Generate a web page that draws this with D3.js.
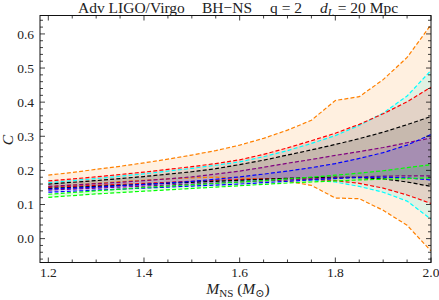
<!DOCTYPE html>
<html>
<head>
<meta charset="utf-8">
<script src="https://cdn.jsdelivr.net/npm/d3@7"></script>
<style>
  body { margin: 0; background: #fff; }
  text { font-family: "Liberation Serif", "DejaVu Serif", serif; fill: #222; }
</style>
</head>
<body>
<svg id="chart" width="439" height="300"></svg>
<script>
// masses on the x axis
var masses = [1.2, 1.25, 1.3, 1.35, 1.4, 1.45, 1.5, 1.55, 1.6, 1.65, 1.7, 1.75, 1.8, 1.85, 1.9, 1.95, 2.0];

// upper and lower edges of each band
var orangeUp = [.186,.194,.203,.212,.222,.233,.245,.258,.274,.294,.318,.347,.405,.416,.466,.531,.627];
var orangeLo = [.152,.157,.162,.167,.171,.175,.178,.180,.178,.174,.168,.156,.119,.117,.083,.039,-.036];
var cyanUp   = [.164,.170,.176,.183,.190,.198,.206,.215,.225,.240,.258,.279,.302,.332,.368,.418,.493];
var cyanLo   = [.148,.151,.154,.157,.160,.163,.166,.169,.171,.173,.174,.172,.166,.153,.136,.110,.057];
var redUp    = [.169,.175,.181,.188,.195,.203,.211,.220,.231,.247,.266,.287,.309,.335,.366,.401,.444];
var redLo    = [.150,.153,.156,.159,.162,.165,.168,.171,.173,.175,.176,.174,.170,.162,.148,.128,.103];
var blackUp  = [.160,.165,.170,.176,.182,.189,.196,.205,.217,.230,.245,.260,.276,.293,.312,.334,.358];
var blackLo  = [.147,.150,.153,.156,.159,.162,.165,.168,.171,.174,.177,.179,.180,.179,.175,.166,.153];
var purpleUp = [.153,.157,.161,.165,.170,.175,.181,.189,.198,.209,.221,.232,.244,.255,.267,.281,.295];
var purpleLo = [.142,.145,.148,.151,.154,.157,.160,.163,.166,.169,.172,.175,.178,.181,.183,.184,.184];
var blueUp   = [.145,.148,.151,.155,.159,.163,.168,.174,.181,.189,.198,.208,.220,.235,.252,.274,.305];
var blueLo   = [.136,.139,.142,.145,.148,.151,.154,.157,.160,.164,.168,.172,.176,.179,.180,.178,.172];
var greenUp  = [.130,.135,.140,.145,.150,.154,.158,.162,.166,.170,.175,.180,.186,.192,.199,.208,.217];
var greenLo  = [.121,.126,.131,.135,.139,.143,.147,.151,.155,.159,.163,.166,.169,.172,.174,.176,.178];

var bandNames = ['orange', 'cyan', 'red', 'black', 'purple', 'blue', 'green'];
var bandColors = ['#ff8000', '#00ffff', '#ff0000', '#000000', '#800080', '#0000ff', '#00ff00'];
var bandUp = [orangeUp, cyanUp, redUp, blackUp, purpleUp, blueUp, greenUp];
var bandLo = [orangeLo, cyanLo, redLo, blackLo, purpleLo, blueLo, greenLo];

var xTicks = [1.2, 1.4, 1.6, 1.8, 2.0];
var yTicks = [0.0, 0.1, 0.2, 0.3, 0.4, 0.5, 0.6];

var svg = d3.select('#chart');
var padding = {t: 15.5, r: 8, b: 37.5, l: 40};
var svgWidth = +svg.attr('width');
var svgHeight = +svg.attr('height');

var xScale = d3.scaleLinear()
    .domain([1.1826, 2.0])
    .range([padding.l, svgWidth - padding.r]);

var yScale = d3.scaleLinear()
    .domain([-0.07, 0.654])
    .range([svgHeight - padding.b, padding.t]);

svg.append('clipPath').attr('id', 'plotClip')
    .append('rect')
    .attr('x', padding.l).attr('y', padding.t)
    .attr('width', svgWidth - padding.l - padding.r)
    .attr('height', svgHeight - padding.t - padding.b);

var plot = svg.append('g').attr('clip-path', 'url(#plotClip)');

var bands = bandNames.map(function(name, i) {
    return {
        name: name,
        color: bandColors[i],
        points: masses.map(function(m, j) {
            return {m: m, up: bandUp[i][j], lo: bandLo[i][j]};
        })
    };
});

var area = d3.area()
    .x(function(d) { return xScale(d.m); })
    .y0(function(d) { return yScale(d.lo); })
    .y1(function(d) { return yScale(d.up); });

var upLine = d3.line()
    .x(function(d) { return xScale(d.m); })
    .y(function(d) { return yScale(d.up); });

var loLine = d3.line()
    .x(function(d) { return xScale(d.m); })
    .y(function(d) { return yScale(d.lo); });

// fills first, lines on top
plot.selectAll('.band')
    .data(bands)
    .enter()
    .append('path')
    .attr('class', 'band')
    .attr('d', function(d) { return area(d.points); })
    .style('fill', function(d) { return d.color; })
    .style('fill-opacity', 0.12)
    .style('stroke', 'none');

bands.forEach(function(b) {
    [upLine, loLine].forEach(function(gen) {
        plot.append('path')
            .attr('d', gen(b.points))
            .style('fill', 'none')
            .style('stroke', b.color)
            .style('stroke-width', 1.2)
            .style('stroke-dasharray', '4,2.2');
    });
});

// frame
var x0 = xScale.range()[0], x1 = xScale.range()[1];
var y0 = yScale.range()[0], y1 = yScale.range()[1];

svg.append('rect')
    .attr('x', x0).attr('y', y1)
    .attr('width', x1 - x0).attr('height', y0 - y1)
    .style('fill', 'none')
    .style('stroke', '#111')
    .style('stroke-width', 1);

var ticks = svg.append('g').style('stroke', '#111').style('stroke-width', 0.8);

// x ticks, major every 0.2 and minor every 0.05
d3.range(1.2, 2.001, 0.05).forEach(function(v) {
    var major = xTicks.some(function(t) { return Math.abs(t - v) < 1e-6; });
    var len = major ? 5 : 3;
    var px = xScale(v);
    ticks.append('line').attr('x1', px).attr('x2', px).attr('y1', y0).attr('y2', y0 - len);
    ticks.append('line').attr('x1', px).attr('x2', px).attr('y1', y1).attr('y2', y1 + len);
});

// y ticks, major every 0.1 and minor every 0.02
d3.range(-0.06, 0.6501, 0.02).forEach(function(v) {
    var major = yTicks.some(function(t) { return Math.abs(t - v) < 1e-6; });
    var len = major ? 5 : 3;
    var py = yScale(v);
    ticks.append('line').attr('x1', x0).attr('x2', x0 + len).attr('y1', py).attr('y2', py);
    ticks.append('line').attr('x1', x1).attr('x2', x1 - len).attr('y1', py).attr('y2', py);
});

svg.selectAll('.xlabel')
    .data(xTicks)
    .enter()
    .append('text')
    .attr('class', 'xlabel')
    .attr('x', function(d) { return xScale(d); })
    .attr('y', y0 + 14.5)
    .attr('text-anchor', 'middle')
    .style('font-size', '13.5px')
    .text(function(d) { return d.toFixed(1); });

svg.selectAll('.ylabel')
    .data(yTicks)
    .enter()
    .append('text')
    .attr('class', 'ylabel')
    .attr('x', x0 - 6)
    .attr('y', function(d) { return yScale(d) + 4.6; })
    .attr('text-anchor', 'end')
    .style('font-size', '13.5px')
    .text(function(d) { return d.toFixed(1); });

// axis titles
var xTitle = svg.append('text')
    .attr('x', 238)
    .attr('y', 294)
    .attr('text-anchor', 'middle')
    .style('font-size', '15.5px');
xTitle.append('tspan').style('font-style', 'italic').text('M');
xTitle.append('tspan').attr('dy', 2.5).style('font-size', '11px').text('NS');
xTitle.append('tspan').attr('dy', -2.5).text(' (');
xTitle.append('tspan').style('font-style', 'italic').text('M');
xTitle.append('tspan').attr('dy', 2.5).style('font-size', '11px').text('\u2299');
xTitle.append('tspan').attr('dy', -2.5).text(')');

svg.append('text')
    .attr('transform', 'translate(13,140) rotate(-90)')
    .attr('text-anchor', 'middle')
    .style('font-size', '15.5px')
    .style('font-style', 'italic')
    .text('C');

// title pieces
var titleY = 13;
var titleSize = '15.5px';
svg.append('text').attr('x', 78).attr('y', titleY).style('font-size', titleSize).text('Adv LIGO/Virgo');
svg.append('text').attr('x', 202).attr('y', titleY).style('font-size', titleSize).text('BH\u2212NS');
svg.append('text').attr('x', 270).attr('y', titleY).style('font-size', titleSize).text('q = 2');
var dl = svg.append('text').attr('x', 320).attr('y', titleY).style('font-size', titleSize);
dl.append('tspan').style('font-style', 'italic').text('d');
dl.append('tspan').attr('dy', 3).style('font-size', '11px').style('font-style', 'italic').text('L');
dl.append('tspan').attr('dy', -3).text(' = 20 Mpc');
</script>
</body>
</html>
